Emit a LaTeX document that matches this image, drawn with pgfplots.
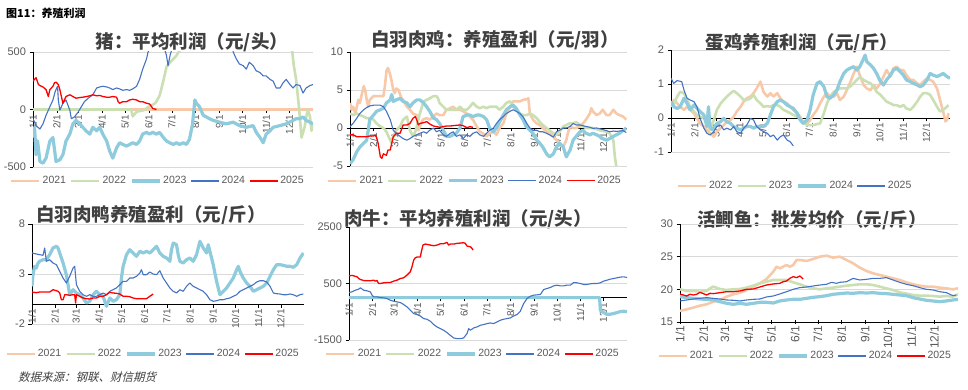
\documentclass[border=0pt]{standalone}
\usepackage{pgfplots}
\pgfplotsset{compat=1.18}
\usepackage{fontspec}
\setmainfont{Liberation Sans}
\newfontfamily\cjk{Noto Sans CJK SC}
\newfontfamily\cjkit{Noto Sans CJK SC}[FakeSlant=0.25]
\definecolor{c21}{HTML}{F8C9A8}
\definecolor{c22}{HTML}{CADFB2}
\definecolor{c23}{HTML}{8ECBDD}
\definecolor{c24}{HTML}{4472C4}
\definecolor{c25}{HTML}{FF0000}
\definecolor{tg}{HTML}{595959}
\definecolor{ttl}{HTML}{404040}
\tikzset{ttlf/.style={font=\cjk\bfseries\fontsize{18.5}{18.5}\selectfont, text=ttl}}
\pgfplotsset{
  y21/.style={color=c21, line width=2.6pt},
  y22/.style={color=c22, line width=2.6pt},
  y23/.style={color=c23, line width=3.2pt},
  y24/.style={color=c24, line width=1.1pt},
  y25/.style={color=c25, line width=1.3pt},
  panel/.style={
    scale only axis, anchor=north west, clip=true,
    xmin=0, xmax=365,
    xtick={0,31,59,90,120,151,181,212,243,273,304,334},
    xticklabels={1/1,2/1,3/1,4/1,5/1,6/1,7/1,8/1,9/1,10/1,11/1,12/1},
    axis y line=left, axis x line=middle,
    hide obscured x ticks=false, hide obscured y ticks=false,
    x axis line style={-, black, line width=0.6pt},
    y axis line style={-, black, line width=0.6pt},
    ymajorgrids, grid style={color=black!15, line width=0.6pt},
    tick style={black, line width=0.5pt},
    major tick length=3.5pt, tick align=outside,
    xticklabel style={rotate=90, anchor=east, font=\fontsize{10}{10}\selectfont, text=tg, inner sep=1.5pt},
    yticklabel style={font=\fontsize{11}{11}\selectfont, text=tg},
    /pgf/number format/assume math mode=true,
    /pgf/number format/1000 sep={},
    no markers,
    every axis plot/.append style={line join=round},
    legend columns=5,
    legend style={draw=none, fill=none, font=\fontsize{10.5}{11}\selectfont, text=tg, anchor=center, /tikz/every even column/.append style={column sep=2pt}},
    legend image code/.code={\draw[#1] (0pt,0pt) -- (28pt,0pt);},
  },
}
\begin{document}
\begin{tikzpicture}
\path[use as bounding box] (0pt,0pt) rectangle (968pt,390pt);
\node[anchor=west, font=\cjk\bfseries\fontsize{11}{11}\selectfont, inner sep=0pt] at (6pt,377pt) {图11：养殖利润};
\node[anchor=west, font=\cjkit\fontsize{11.5}{11.5}\selectfont, text=ttl, inner sep=0pt] at (18pt,13pt) {数据来源：钢联、财信期货};
\node[ttlf] at (192pt,348pt) {猪：平均利润（元/头）};
\node[ttlf] at (495pt,350pt) {白羽肉鸡：养殖盈利（元/羽）};
\node[ttlf] at (802pt,347pt) {蛋鸡养殖利润（元/斤）};
\node[ttlf] at (151pt,175pt) {白羽肉鸭养殖盈利（元/斤）};
\node[ttlf] at (468pt,171pt) {肉牛：平均养殖利润（元/头）};
\node[ttlf] at (812pt,170pt) {活鲫鱼：批发均价（元/斤）};

% ---------- Panel 1: pig ----------
\begin{axis}[panel, at={(33pt,338pt)}, width=280pt, height=115pt,
  ymin=-500, ymax=500, ytick={-500,0,500},
  legend style={at={(0.446,-0.122)}}]
\addplot[y21] coordinates {(0,0)(365,0)};
\addlegendentry{2021}
\addplot[y22] coordinates {(0,0)(128,0)(130,-60)(135,-20)(145,-5)(150,20)(156,40)(160,60)(165,120)(170,250)(174,370)(180,420)(186,460)(191,510)(200,700)(250,900)(300,1000)(335,700)(338,500)(340,380)(343,262)(347,0)(350,-244)(354,-155)(358,0)(361,-60)(363,-185)(365,-120)};
\addlegendentry{2022}
\addplot[y23] coordinates {(0,-244)(2,-155)(4,-393)(6,-274)(9,-452)(13,-467)(17,-423)(22,-274)(26,-244)(30,-452)(35,-437)(39,-393)(43,-274)(48,-214)(52,-125)(56,-95)(61,-125)(65,-155)(69,-185)(74,-214)(78,-155)(83,-185)(87,-155)(91,-214)(96,-274)(100,-363)(104,-423)(109,-333)(113,-289)(117,-304)(122,-318)(126,-304)(130,-289)(135,-304)(139,-274)(143,-214)(148,-199)(152,-214)(156,-199)(161,-214)(165,-199)(170,-244)(174,-274)(178,-289)(183,-304)(187,-289)(191,-304)(196,-289)(200,-304)(204,-259)(208,-125)(211,83)(213,54)(217,24)(222,-51)(226,-65)(230,-80)(235,-95)(243,-110)(252,-125)(261,-110)(269,-140)(278,-155)(287,-140)(291,-199)(296,-244)(300,-289)(304,-214)(309,-185)(313,-155)(322,-140)(330,-125)(339,-95)(343,-80)(348,-80)(352,-65)(356,-95)(361,-110)(365,-125)};
\addlegendentry{2023}
\addplot[y24] coordinates {(0,-80)(4,-140)(9,-170)(13,-125)(17,-51)(22,24)(26,83)(29,158)(32,202)(33,83)(35,-6)(39,54)(43,83)(48,-6)(50,-80)(54,-65)(59,-21)(63,24)(67,68)(72,98)(78,128)(83,187)(87,196)(91,202)(96,196)(100,187)(104,173)(109,187)(113,179)(117,167)(122,173)(126,167)(130,179)(135,202)(139,262)(143,351)(148,440)(150,500)(160,620)(170,560)(174,470)(176,381)(179,480)(183,560)(200,700)(240,800)(258,600)(261,500)(265,440)(269,396)(274,381)(278,351)(282,411)(287,381)(291,336)(296,321)(300,292)(304,292)(309,262)(313,247)(317,187)(322,187)(326,232)(330,262)(335,217)(339,187)(343,217)(348,208)(352,143)(356,187)(361,208)(365,217)};
\addlegendentry{2024}
\addplot[y25] coordinates {(0,247)(2,262)(4,277)(7,217)(9,208)(13,196)(17,173)(20,113)(22,173)(24,187)(26,202)(28,232)(30,238)(33,217)(35,173)(37,113)(39,54)(41,83)(43,113)(48,128)(52,113)(56,98)(61,104)(65,107)(70,113)(74,119)(78,128)(83,119)(87,122)(91,113)(96,107)(100,107)(104,113)(109,107)(111,68)(113,54)(117,68)(122,68)(126,83)(130,89)(135,83)(139,68)(143,68)(148,54)(152,48)(154,30)(156,9)(161,0)};
\addlegendentry{2025}
\end{axis}

% ---------- Panel 2: broiler ----------
\begin{axis}[panel, at={(350pt,338pt)}, width=277pt, height=114pt,
  ymin=-5, ymax=10, ytick={-5,0,5,10},
  legend style={at={(0.451,-0.13)}}]
\addplot[y21] coordinates {(0,3.3)(2,2.4)(4,2.8)(7,1.9)(9,2.8)(11,3.7)(13,3.3)(15,4.2)(18,5.5)(20,5.0)(22,3.7)(24,2.8)(26,3.7)(31,4.2)(35,4.2)(40,4.2)(44,4.2)(46,5.5)(48,7.5)(50,7.9)(53,7.0)(55,6.1)(57,5.0)(59,4.6)(61,5.2)(64,5.0)(66,4.4)(68,3.9)(70,3.7)(75,2.8)(79,2.4)(83,1.9)(88,1.7)(90,-0.3)(92,0.2)(96,1.1)(101,1.3)(105,1.1)(110,1.5)(114,1.9)(118,1.7)(123,1.7)(127,2.4)(132,2.6)(136,2.8)(140,2.4)(145,2.4)(149,2.2)(154,1.9)(158,1.5)(162,1.1)(167,0.2)(171,-0.5)(175,-0.7)(180,-1.1)(184,-0.7)(189,-0.5)(193,-0.9)(197,0)(202,0.6)(206,1.9)(211,2.8)(215,3.5)(219,3.5)(224,3.5)(228,3.7)(233,3.8)(235,3.9)(237,1.9)(241,1.1)(246,0.6)(250,0.4)(254,0)(259,-0.5)(263,-0.7)(268,-1.1)(272,-1.6)(276,-2.0)(281,-2.5)(285,-1.6)(287,-0.7)(290,0.2)(294,0)(298,0)(303,0.2)(307,0.6)(311,1.1)(316,1.9)(318,2.6)(320,2.2)(325,1.7)(329,1.9)(333,2.4)(338,1.7)(342,1.7)(347,2.4)(351,1.9)(355,1.7)(360,1.5)(364,1.1)};
\addlegendentry{2021}
\addplot[y22] coordinates {(0,1.9)(4,1.7)(9,1.9)(13,1.7)(18,1.5)(22,1.3)(26,1.3)(31,1.1)(35,0.6)(40,0.2)(44,0)(48,-0.5)(53,-1.6)(55,-2.0)(57,-1.1)(61,-0.3)(66,0.2)(70,1.1)(75,1.5)(79,-0.3)(83,-1.1)(86,-0.5)(88,0.2)(92,1.9)(97,3.5)(101,3.7)(105,3.9)(110,4.2)(114,4.2)(116,3.9)(118,3.3)(123,2.8)(127,2.4)(132,2.4)(136,2.4)(140,2.4)(145,2.8)(149,2.4)(154,2.4)(158,2.8)(162,3.3)(167,2.8)(171,2.6)(176,2.8)(180,2.6)(184,2.8)(189,2.8)(193,2.8)(197,2.4)(202,2.8)(206,3.3)(211,3.5)(215,2.8)(219,2.4)(224,1.9)(228,1.7)(233,1.7)(237,1.9)(241,1.7)(246,1.3)(250,0.8)(254,0.4)(259,0)(263,-0.3)(268,-0.7)(272,-0.9)(276,-0.5)(281,0.2)(285,0.4)(289,0.6)(294,0.6)(298,0.8)(303,0.4)(307,0.2)(311,0)(320,0)(329,-0.3)(338,-0.5)(342,-0.7)(347,-1.6)(349,-3.8)(351,-5.1)};
\addlegendentry{2022}
\addplot[y23] coordinates {(0,-4.7)(4,-4.2)(9,-3.1)(13,-2.5)(18,-2.0)(22,-1.6)(24,-0.3)(26,1.1)(31,1.7)(35,2.2)(40,2.4)(44,2.6)(48,3.3)(53,3.7)(55,4.4)(57,3.5)(61,3.7)(66,3.9)(70,3.5)(75,3.3)(79,2.8)(83,3.3)(88,3.7)(92,3.7)(97,3.3)(101,2.8)(105,2.2)(110,1.3)(114,1.1)(118,0.6)(123,-0.3)(127,-1.1)(132,-1.1)(136,-0.9)(140,-0.7)(145,0)(149,1.5)(154,1.7)(158,1.7)(162,1.5)(167,1.7)(171,1.7)(176,1.5)(180,1.1)(184,0)(189,-0.5)(193,0)(197,0.8)(202,1.7)(206,2.4)(211,2.8)(215,3.0)(219,2.6)(224,1.7)(228,1.1)(232,0.2)(237,-0.3)(241,-0.7)(246,-1.6)(250,-2.0)(254,-2.5)(259,-3.4)(263,-3.8)(268,-3.4)(272,-2.5)(276,-2.0)(281,-2.5)(285,-3.8)(290,-2.9)(294,-1.6)(298,-1.1)(303,-0.5)(307,-0.3)(311,-0.7)(316,-0.9)(320,-0.7)(325,-0.9)(329,-1.1)(333,-1.4)(338,-1.6)(342,-1.4)(347,-1.1)(351,-0.9)(355,-0.7)(360,-0.3)(364,0)};
\addlegendentry{2023}
\addplot[y24] coordinates {(0,0.2)(4,0.6)(9,1.3)(13,1.9)(18,2.4)(22,2.7)(26,2.9)(31,3.0)(35,3.0)(40,3.0)(44,2.8)(48,2.2)(53,1.1)(57,-0.3)(61,-0.7)(66,-1.1)(70,-1.4)(75,-1.6)(79,-1.4)(83,-1.1)(88,-0.9)(92,-0.7)(97,-0.5)(101,-0.7)(105,-0.3)(110,0)(114,-0.5)(118,-0.3)(123,-0.9)(127,-1.1)(132,-0.7)(136,-0.5)(140,-1.1)(145,-0.9)(149,-1.4)(154,-0.9)(158,-1.1)(162,-0.7)(167,-0.5)(171,-0.9)(176,-1.1)(180,-0.7)(184,-0.3)(189,0)(193,0.6)(197,1.1)(202,1.5)(206,1.9)(211,2.2)(215,2.4)(219,2.2)(224,1.9)(228,1.5)(233,0.6)(237,0)(241,-0.3)(246,-0.3)(250,-0.5)(254,-0.5)(259,-0.7)(263,-0.9)(268,-1.2)(272,-0.5)(276,-0.3)(281,0)(285,0)(290,0.2)(294,0.6)(298,0.4)(303,0.4)(307,0.3)(311,0.2)(316,0.1)(320,-0.05)(325,0)(329,-0.1)(333,-0.2)(338,-0.35)(342,-0.5)(347,-0.4)(351,-0.45)(355,-0.4)(360,-0.35)(364,-0.6)};
\addlegendentry{2024}
\addplot[y25] coordinates {(0,-0.9)(4,-0.9)(9,-1.15)(13,-1.15)(18,-1.15)(22,-1.15)(26,-1.06)(31,-1.06)(33,-0.93)(35,-1.24)(37,-2.0)(40,-3.8)(42,-4.0)(44,-3.4)(48,-3.6)(50,-2.9)(53,-2.9)(55,-2.0)(57,-1.15)(61,-0.7)(66,-0.7)(70,0.4)(75,0.4)(79,0.6)(83,1.28)(86,1.5)(88,1.06)(90,0.4)(92,0.6)(97,0.7)(101,0.84)(105,0.53)(110,0.26)(114,0.18)(118,0.09)(123,0.18)(127,0.26)(132,0.26)(136,0.31)(140,0.35)(145,0.4)(149,0.31)(154,0.04)(158,0.18)(162,0.09)};
\addlegendentry{2025}
\end{axis}

% ---------- Panel 3: layer ----------
\begin{axis}[panel, at={(671pt,340pt)}, width=279pt, height=102pt,
  ymin=-1, ymax=2, ytick={-1,0,1,2},
  legend columns=4, legend style={at={(0.444,-0.333)}}]
\addplot[y21] coordinates {(0,0.43)(4,0.53)(8,0.43)(12,0.33)(17,0.24)(21,0.33)(25,0.24)(30,0.14)(34,-0.01)(38,-0.16)(43,-0.25)(47,-0.35)(51,-0.45)(56,-0.55)(60,-0.40)(65,-0.30)(69,-0.21)(73,-0.11)(78,-0.06)(82,0.04)(86,0.19)(91,0.33)(95,0.48)(99,0.58)(104,0.63)(108,0.73)(112,0.87)(117,1.07)(121,0.77)(126,0.63)(130,0.73)(134,0.63)(139,0.73)(143,0.58)(147,0.48)(152,0.43)(156,0.33)(160,0.24)(165,0.14)(169,0.04)(173,-0.16)(178,-0.16)(182,-0.06)(186,0.09)(191,0.24)(195,0.43)(200,0.63)(204,0.73)(208,0.63)(213,0.63)(217,0.73)(221,0.53)(226,0.63)(230,0.82)(234,1.02)(239,1.31)(243,1.51)(247,1.26)(252,0.97)(256,0.87)(261,0.82)(265,0.97)(269,0.87)(274,1.02)(278,1.22)(282,1.41)(287,1.22)(291,1.46)(295,1.51)(300,1.41)(304,1.41)(308,1.26)(313,1.12)(317,1.12)(322,1.02)(326,0.97)(330,1.07)(335,1.17)(339,1.12)(343,1.07)(348,0.87)(352,0.53)(356,0.19)(359,-0.10)(361,-0.06)(363,0.14)};
\addlegendentry{2022}
\addplot[y22] coordinates {(0,0.33)(4,0.43)(8,0.63)(12,0.77)(17,0.73)(21,0.53)(25,0.33)(30,0.19)(34,0.09)(38,0.04)(43,-0.01)(47,-0.16)(51,-0.35)(56,-0.06)(60,0.24)(65,0.43)(69,0.53)(73,0.63)(78,0.73)(82,0.80)(86,0.73)(91,0.63)(95,0.53)(99,0.53)(104,0.58)(108,0.68)(112,0.53)(117,0.43)(121,0.33)(126,0.35)(130,0.33)(134,0.38)(139,0.38)(143,0.33)(147,0.24)(152,0.19)(156,0.14)(160,0.09)(165,0.04)(169,-0.01)(173,-0.11)(178,-0.21)(182,-0.21)(186,-0.21)(191,-0.18)(195,-0.16)(200,0.14)(204,0.43)(208,0.63)(213,0.77)(217,0.82)(221,0.87)(226,0.87)(230,0.87)(234,0.92)(239,1.02)(243,1.12)(247,1.20)(252,1.12)(256,1.07)(261,1.02)(265,0.92)(269,0.77)(274,0.68)(278,0.58)(282,0.48)(287,0.43)(291,0.38)(295,0.38)(300,0.33)(304,0.38)(308,0.28)(313,0.24)(317,0.33)(322,0.48)(326,0.63)(330,0.73)(335,0.73)(339,0.68)(343,0.53)(348,0.33)(352,0.19)(356,0.24)(361,0.33)(363,0.38)};
\addlegendentry{2023}
\addplot[y23] coordinates {(0,0.48)(4,0.33)(8,0.28)(12,0.33)(17,0.58)(21,0.43)(25,0.24)(30,0.38)(34,0.28)(38,0.19)(43,0.09)(47,-0.25)(49,0.33)(51,-0.25)(54,-0.35)(56,-0.30)(60,-0.16)(65,-0.11)(69,-0.01)(73,-0.11)(78,-0.16)(82,-0.25)(86,-0.30)(91,-0.35)(95,-0.30)(99,-0.25)(104,-0.25)(108,-0.30)(112,-0.25)(117,-0.25)(121,-0.25)(126,-0.16)(130,0.09)(134,0.33)(139,0.48)(143,0.53)(147,0.48)(152,0.38)(156,0.33)(160,0.28)(165,0.14)(169,-0.06)(173,-0.16)(178,-0.06)(182,0.24)(186,0.68)(191,1.02)(195,1.07)(200,0.92)(204,0.63)(208,0.58)(213,0.68)(217,0.82)(221,1.07)(226,1.31)(230,1.41)(234,1.46)(239,1.51)(243,1.41)(247,1.51)(252,1.75)(254,1.85)(256,1.66)(261,1.56)(265,1.46)(269,1.31)(274,1.07)(278,0.97)(282,1.12)(287,1.26)(291,1.41)(295,1.46)(300,1.36)(304,1.26)(308,1.12)(313,1.07)(317,1.02)(322,0.97)(326,0.92)(330,0.97)(335,1.12)(339,1.31)(343,1.26)(348,1.22)(352,1.26)(356,1.31)(361,1.22)(365,1.17)};
\addlegendentry{2024}
\addplot[y24] coordinates {(0,1.17)(3.5,1.02)(8,1.10)(14,1.07)(17,0.82)(21,0.58)(25,0.53)(30,0.48)(34,0.33)(38,-0.01)(43,-0.30)(47,-0.45)(51,-0.50)(56,-0.40)(60,-0.25)(65,-0.21)(69,-0.35)(73,-0.30)(78,-0.35)(82,-0.25)(86,-0.40)(91,-0.45)(95,-0.30)(99,-0.21)(104,-0.01)(108,-0.06)(112,-0.25)(117,-0.35)(121,-0.40)(126,-0.45)(130,-0.55)(134,-0.50)(139,-0.65)(143,-0.55)(147,-0.50)(152,-0.65)(156,-0.70)(160,-0.82)};
\addlegendentry{2025}
\end{axis}

% ---------- Panel 4: duck ----------
\begin{axis}[panel, at={(32pt,166pt)}, width=272pt, height=100pt,
  ymin=-2, ymax=8, ytick={-2,3,8},
  legend style={at={(0.445,-0.30)}}]
\addlegendimage{y21}\addlegendentry{2021}
\addlegendimage{y22}\addlegendentry{2022}
\addplot[y23] coordinates {(0,1.77)(1.3,2.93)(3.6,3.77)(5.8,3.6)(8.1,4.1)(10.3,4.27)(14.8,4.43)(19.3,4.43)(23.7,4.93)(28.2,5.6)(32.7,5.77)(34.9,5.6)(37.2,5.1)(41.7,4.1)(46.1,2.93)(50.6,0.93)(55.1,1.43)(59.6,1.1)(64.1,0.93)(68.5,0.6)(73,0.1)(77.5,0.27)(82,0.93)(86.4,1.27)(90.9,0.93)(95.4,0.77)(99.9,-0.23)(104.4,0.6)(108.8,0.27)(113.3,0.43)(117.8,0.93)(120,2.6)(122.3,3.77)(126.8,4.93)(131.2,5.43)(135.7,5.1)(140.2,4.77)(144.7,5.27)(149.2,5.1)(153.6,5.27)(158.1,5.1)(162.6,5.43)(167.1,5.77)(171.5,5.1)(176,4.77)(180.5,4.6)(185,4.27)(187.2,5.43)(189.5,6.1)(193.9,5.93)(196.2,4.93)(198.4,4.27)(202.9,4.1)(207.4,4.43)(211.9,4.6)(216.3,4.27)(220.8,4.93)(225.3,6.27)(229.8,5.6)(234.3,5.1)(236.5,5.93)(238.7,5.27)(243.2,3.93)(247.7,2.27)(252.2,0.93)(256.7,1.27)(261.1,1.6)(265.6,2.1)(270.1,2.6)(274.6,3.43)(276.8,3.77)(279,3.27)(283.5,2.6)(288,2.1)(292.5,1.77)(297,1.27)(301.5,1.43)(305.9,1.6)(310.4,1.77)(314.9,2.1)(319.4,2.77)(323.9,3.43)(328.3,3.93)(332.8,3.93)(337.3,3.87)(341.8,3.77)(346.2,3.77)(350.7,3.67)(355.2,3.93)(359.7,4.6)(364.1,5.1)};
\addlegendentry{2023}
\addplot[y24] coordinates {(0,5.1)(5.8,5.0)(10.3,4.93)(14.8,4.87)(17,5.6)(19.3,4.27)(23.7,4.43)(28.2,4.1)(32.7,3.93)(37.2,3.27)(41.7,2.6)(46.1,2.1)(50.6,2.77)(55.1,3.6)(57.3,3.77)(59.6,1.93)(64.1,1.27)(68.5,0.93)(73,0.77)(77.5,0.93)(82,0.77)(86.4,0.77)(90.9,0.93)(95.4,1.1)(99.9,0.93)(104.4,1.27)(108.8,1.43)(113.3,1.6)(117.8,1.93)(122.3,2.27)(126.8,2.27)(131.2,2.6)(135.7,2.6)(140.2,2.77)(144.7,3.1)(146.9,3.43)(149.2,2.93)(153.6,2.93)(158.1,3.2)(162.6,3.0)(167.1,2.93)(171.5,3.33)(176,2.6)(180.5,2.1)(185,1.6)(189.5,1.27)(193.9,1.1)(198.4,1.43)(202.9,1.27)(207.4,1.77)(211.9,2.1)(216.3,1.77)(220.8,1.6)(225.3,1.43)(229.8,1.27)(234.3,0.93)(238.7,0.43)(243.2,0.27)(247.7,0.33)(252.2,0.43)(256.7,0.43)(261.1,0.53)(265.6,0.6)(270.1,0.77)(274.6,0.93)(279,1.27)(283.5,1.43)(288,1.6)(292.5,1.77)(297,1.93)(301.5,2.2)(305.9,2.33)(310.4,2.33)(314.9,2.2)(319.4,1.77)(323.9,1.1)(328.3,1.03)(332.8,1.0)(337.3,0.93)(341.8,0.93)(346.2,1.0)(350.7,0.93)(355.2,0.77)(359.7,0.93)(364.1,1.0)};
\addlegendentry{2024}
\addplot[y25] coordinates {(0,1.2)(5.8,1.13)(10.3,1.2)(14.8,1.2)(19.3,1.2)(23.7,1.2)(28.2,1.43)(32.7,1.33)(34.9,1.27)(37.2,1.1)(39.4,0.43)(41.7,0.43)(43.9,0.93)(46.1,0.93)(50.6,0.87)(55.1,0.93)(57.3,0.93)(58.5,0.1)(59.6,0.93)(64.1,0.77)(68.5,0.6)(73,0.53)(77.5,0.5)(82,0.6)(86.4,0.6)(90.9,0.77)(95.4,0.77)(99.9,0.93)(104.4,1.17)(108.8,1.1)(113.3,1.07)(117.8,1.0)(122.3,0.77)(126.8,0.77)(131.2,0.73)(135.7,0.6)(140.2,0.53)(144.7,0.53)(149.2,0.53)(153.6,0.53)(158.1,0.77)(162.6,1.0)};
\addlegendentry{2025}
\end{axis}

% ---------- Panel 5: beef ----------
\begin{axis}[panel, at={(349pt,163pt)}, width=278pt, height=113pt,
  ymin=-1500, ymax=2500, ytick={-1500,500,2500},
  legend style={at={(0.446,-0.124)}}]
\addlegendimage{y21}\addlegendentry{2021}
\addlegendimage{y22}\addlegendentry{2022}
\addplot[y23] coordinates {(0,0)(329,0)(330,-446)(334,-529)(339,-588)(343,-588)(347,-565)(352,-529)(356,-494)(361,-482)(365,-506)};
\addlegendentry{2023}
\addplot[y24] coordinates {(0,181)(3.9,204)(8.3,263)(12.7,299)(14.9,346)(19.3,263)(23.6,240)(28,204)(30.2,86)(32.4,27)(36.8,27)(41.1,3)(45.5,-9)(49.9,-32)(54.3,-92)(58.6,-127)(63,-151)(67.4,-174)(71.8,-245)(76.1,-328)(80.5,-446)(84.9,-565)(89.3,-600)(93.6,-648)(98,-742)(102.4,-766)(106.8,-837)(111.2,-955)(115.5,-1038)(119.9,-1097)(124.3,-1156)(128.7,-1239)(133,-1334)(137.4,-1428)(141.8,-1452)(146.2,-1452)(150.5,-1428)(154.9,-1275)(157.1,-1097)(159.3,-1156)(163.7,-1073)(168,-1038)(172.4,-979)(176.8,-955)(181.2,-920)(185.5,-896)(189.9,-920)(194.3,-860)(198.7,-801)(203,-766)(207.4,-742)(211.8,-719)(216.2,-648)(220.6,-600)(224.9,-482)(229.3,-210)(233.7,-32)(238.1,50)(242.4,86)(251.2,110)(255.6,287)(259.9,323)(264.3,358)(268.7,417)(273.1,441)(277.4,417)(281.8,417)(286.2,441)(290.6,441)(295,535)(299.3,524)(303.7,500)(308.1,465)(312.4,465)(316.8,488)(321.2,500)(325.6,500)(329.9,524)(334.3,583)(338.7,618)(343.1,654)(347.5,677)(351.8,701)(356.2,725)(360.6,737)(365,713)};
\addlegendentry{2024}
\addplot[y25] coordinates {(0,772)(3.9,784)(6.1,772)(10.5,737)(12.7,677)(14.9,642)(19.3,606)(23.6,595)(28,595)(32.4,618)(34.6,583)(36.8,606)(38.9,500)(41.1,500)(45.5,524)(49.9,535)(54.3,535)(58.6,583)(63,618)(67.4,677)(71.8,701)(76.1,796)(80.5,914)(82.7,1092)(84.9,1328)(87.1,1411)(89.3,1435)(93.6,1435)(95,1624)(97.1,1860)(100.2,1896)(106.8,1860)(111.2,1837)(115.5,1860)(119.9,1908)(124.3,1908)(128.7,1955)(130.8,1860)(133,1896)(137.4,1896)(141.8,1920)(146.2,1931)(150.5,1943)(152.7,1920)(154.9,1825)(159.3,1801)(161.5,1742)(162.8,1683)};
\addlegendentry{2025}
\end{axis}

% ---------- Panel 6: crucian carp ----------
\begin{axis}[panel, at={(680pt,166pt)}, width=278pt, height=98pt,
  axis x line=bottom, x axis line style={-, black, line width=0.6pt},
  xticklabel style={font=\fontsize{12}{12}\selectfont},
  ymin=15, ymax=30, ytick={15,20,25,30},
  legend style={at={(0.45,-0.347)}}]
\addplot[y21] coordinates {(0,16.69)(8.7,16.94)(17.5,17.2)(26.2,17.5)(35,17.71)(43.7,18.11)(52.5,18.37)(61.2,18.88)(69.9,19.24)(78.7,19.5)(87.4,19.9)(96.2,20.41)(104.9,20.92)(113.6,21.58)(122.4,22.7)(126.8,23.47)(131.1,23.21)(135.5,23.47)(139.9,23.72)(144.2,23.47)(148.6,23.72)(153,24.49)(157.4,24.49)(166.1,24.34)(174.8,24.64)(183.6,25.0)(192.3,25.15)(201.1,24.85)(209.8,25.0)(218.6,24.49)(227.3,23.98)(236,23.32)(244.8,22.81)(253.5,22.45)(262.3,22.19)(271,21.94)(279.7,21.68)(288.5,21.43)(297.2,21.07)(306,20.77)(314.7,20.56)(323.5,20.41)(332.2,20.41)(340.9,20.26)(349.7,20.15)(358.4,20.0)(365,20.15)};
\addlegendentry{2021}
\addplot[y22] coordinates {(0,20.0)(8.7,19.75)(17.5,19.75)(26.2,19.64)(35,19.75)(39.3,20.15)(43.7,20.41)(52.5,20.05)(61.2,19.9)(69.9,20.0)(78.7,20.05)(87.4,20.26)(96.2,20.56)(104.9,20.92)(113.6,21.17)(122.4,21.43)(131.1,21.43)(139.9,21.43)(148.6,21.07)(157.4,20.77)(166.1,20.41)(174.8,20.15)(183.6,20.0)(192.3,20.15)(201.1,20.26)(209.8,20.41)(218.6,20.56)(227.3,20.66)(236,20.77)(244.8,20.77)(253.5,20.66)(262.3,20.41)(271,20.15)(279.7,19.9)(288.5,19.54)(297.2,19.34)(306,19.13)(314.7,19.03)(323.5,19.03)(332.2,18.98)(340.9,18.88)(349.7,18.98)(358.4,18.88)(365,19.24)};
\addlegendentry{2022}
\addplot[y23] coordinates {(0,18.88)(8.7,18.73)(17.5,18.62)(26.2,18.52)(35,18.47)(43.7,18.37)(52.5,18.11)(61.2,17.86)(69.9,17.71)(78.7,17.86)(87.4,17.71)(96.2,17.86)(104.9,18.01)(113.6,18.01)(122.4,17.91)(131.1,18.22)(139.9,18.37)(148.6,18.47)(157.4,18.47)(166.1,18.62)(174.8,18.78)(183.6,18.88)(192.3,19.03)(201.1,19.24)(209.8,19.34)(218.6,19.44)(227.3,19.39)(236,19.49)(244.8,19.44)(253.5,19.49)(262.3,19.39)(271,19.34)(279.7,19.24)(288.5,19.13)(297.2,19.03)(306,18.73)(314.7,18.52)(323.5,18.32)(332.2,18.22)(340.9,18.11)(349.7,18.22)(358.4,18.37)(365,18.47)};
\addlegendentry{2023}
\addplot[y24] coordinates {(0,18.22)(8.7,18.37)(17.5,18.52)(26.2,18.62)(35,18.73)(43.7,18.62)(52.5,18.52)(61.2,18.37)(69.9,18.32)(78.7,18.22)(87.4,18.37)(96.2,18.47)(104.9,18.52)(113.6,18.83)(122.4,18.98)(131.1,19.29)(139.9,19.64)(148.6,20.0)(157.4,20.26)(166.1,20.36)(174.8,20.51)(183.6,20.66)(192.3,20.77)(198.9,21.07)(205.4,20.92)(209.8,21.07)(218.6,21.17)(227.3,21.68)(236,21.43)(244.8,21.53)(253.5,21.68)(262.3,21.68)(271,21.79)(279.7,21.43)(288.5,21.07)(297.2,20.77)(306,20.56)(314.7,20.26)(323.5,20.0)(332.2,19.9)(340.9,19.64)(349.7,19.49)(358.4,19.03)(362.8,19.13)};
\addlegendentry{2024}
\addplot[y25] coordinates {(0,19.29)(4.4,19.13)(8.7,18.98)(13.1,19.24)(17.5,19.13)(21.9,19.24)(26.2,19.54)(30.6,19.34)(35,19.13)(39.3,19.39)(43.7,19.34)(52.5,19.49)(61.2,19.64)(69.9,19.64)(78.7,19.75)(87.4,20.0)(96.2,20.05)(104.9,20.36)(113.6,20.66)(122.4,20.82)(131.1,20.92)(135.5,21.17)(139.9,21.28)(144.2,21.68)(148.6,21.94)(153,21.79)(157.4,22.04)(161.7,21.58)};
\addlegendentry{2025}
\end{axis}
\end{tikzpicture}
\end{document}
